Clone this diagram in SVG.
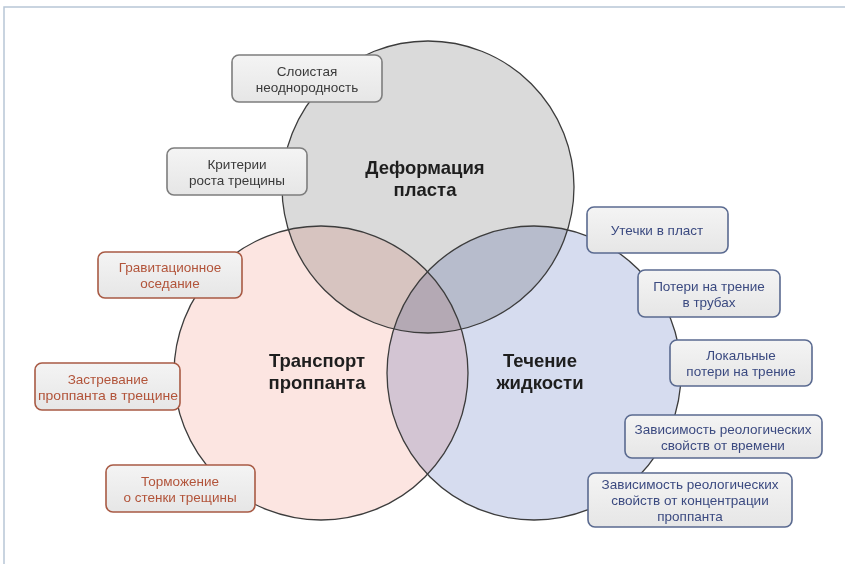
<svg xmlns="http://www.w3.org/2000/svg" width="845" height="564" viewBox="0 0 845 564">
<style>
.bg{fill:#ffffff}
.frame{stroke:#b8c6d6;stroke-width:1.5;fill:none}
.c{mix-blend-mode:multiply}
.ring{fill:none;stroke:#3c3c3c;stroke-width:1.3}
.box{stroke-width:1.6}
.gray .box{fill:url(#g);stroke:#7d7d7d}
.red .box{fill:url(#g);stroke:#a85a44}
.blue .box{fill:url(#g);stroke:#5a6a90}
text{font-family:"Liberation Sans Narrow","Liberation Sans",Arial,sans-serif;text-anchor:middle;font-size:13.5px}
.gray text{fill:#3a3a3a}
.red text{fill:#b2543a}
.blue text{fill:#3b4a80}
.main{font-size:18.5px;font-weight:bold;fill:#1e1e1e}
</style>
<defs>
<linearGradient id="g" x1="0" y1="0" x2="0" y2="1">
<stop offset="0" stop-color="#f4f4f4"/>
<stop offset="1" stop-color="#e6e6e6"/>
</linearGradient>
</defs>
<rect class="bg" width="845" height="564"/>
<path class="frame" d="M4,564 V7 H845"/>
<g id="circles">
<circle class="c" cx="428" cy="187" r="146" fill="#dadada"/>
<circle class="c" cx="321" cy="373" r="147" fill="#fce5e1"/>
<circle class="c" cx="534" cy="373" r="147" fill="#d6dcef"/>
<circle class="ring" cx="428" cy="187" r="146"/>
<circle class="ring" cx="321" cy="373" r="147"/>
<circle class="ring" cx="534" cy="373" r="147"/>
</g>
<g id="main-labels">
<g id="deformation"><text class="main" x="425" y="174">Деформация</text><text class="main" x="425" y="196">пласта</text></g>
<g id="transport"><text class="main" x="317" y="367">Транспорт</text><text class="main" x="317" y="389">проппанта</text></g>
<g id="flow"><text class="main" x="540" y="367">Течение</text><text class="main" x="540" y="389">жидкости</text></g>
</g>
<g class="gray">
<g id="n1"><rect class="box" x="232" y="55" width="150" height="47" rx="7"/><text x="307" y="75.5">Слоистая</text><text x="307" y="91.5">неоднородность</text></g>
<g id="n2"><rect class="box" x="167" y="148" width="140" height="47" rx="7"/><text x="237" y="168.5">Критерии</text><text x="237" y="184.5">роста трещины</text></g>
</g>
<g class="red">
<g id="n3"><rect class="box" x="98" y="252" width="144" height="46" rx="7"/><text x="170" y="272">Гравитационное</text><text x="170" y="288">оседание</text></g>
<g id="n4"><rect class="box" x="35" y="363" width="145" height="47" rx="7"/><text x="108" y="383.5">Застревание</text><text x="108" y="399.5" textLength="140" lengthAdjust="spacingAndGlyphs">проппанта в трещине</text></g>
<g id="n5"><rect class="box" x="106" y="465" width="149" height="47" rx="7"/><text x="180" y="485.5">Торможение</text><text x="180" y="501.5">о стенки трещины</text></g>
</g>
<g class="blue">
<g id="n6"><rect class="box" x="587" y="207" width="141" height="46" rx="7"/><text x="657" y="235">Утечки в пласт</text></g>
<g id="n7"><rect class="box" x="638" y="270" width="142" height="47" rx="7"/><text x="709" y="290.5">Потери на трение</text><text x="709" y="306.5">в трубах</text></g>
<g id="n8"><rect class="box" x="670" y="340" width="142" height="46" rx="7"/><text x="741" y="360">Локальные</text><text x="741" y="376">потери на трение</text></g>
<g id="n9"><rect class="box" x="625" y="415" width="197" height="43" rx="7"/><text x="723" y="433.5">Зависимость реологических</text><text x="723" y="449.5">свойств от времени</text></g>
<g id="n10"><rect class="box" x="588" y="473" width="204" height="54" rx="7"/><text x="690" y="489">Зависимость реологических</text><text x="690" y="505">свойств от концентрации</text><text x="690" y="521">проппанта</text></g>
</g>
</svg>
